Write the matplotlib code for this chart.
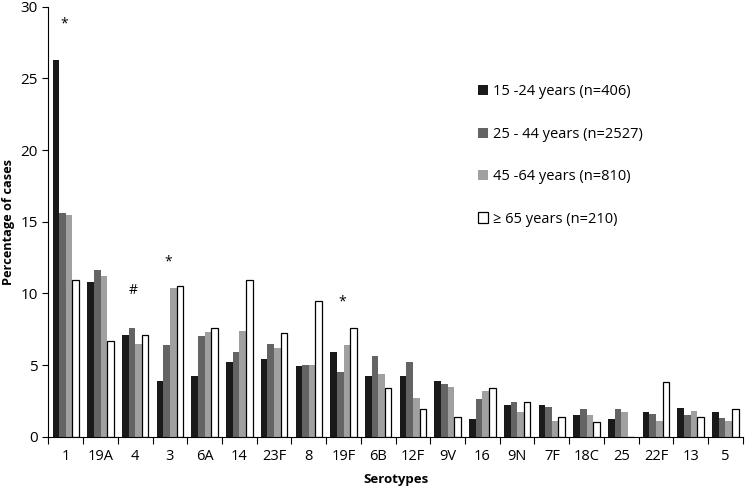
import numpy as np
import matplotlib.pyplot as plt

plt.rcParams['font.family'] = ['Open Sans', 'DejaVu Sans']

# serotype categories and percentages per age group
serotypes = ["1", "19A", "4", "3", "6A", "14", "23F", "8", "19F", "6B",
             "12F", "9V", "16", "9N", "7F", "18C", "25", "22F", "13", "5"]
age_15_24 = [26.3, 10.8, 7.1, 3.9, 4.2, 5.2, 5.4, 4.9, 5.9, 4.2,
             4.2, 3.9, 1.2, 2.2, 2.2, 1.5, 1.2, 1.7, 2.0, 1.7]
age_25_44 = [15.6, 11.6, 7.6, 6.4, 7.0, 5.9, 6.5, 5.0, 4.5, 5.6,
             5.2, 3.7, 2.6, 2.4, 2.1, 1.9, 1.9, 1.6, 1.5, 1.3]
age_45_64 = [15.5, 11.2, 6.5, 10.4, 7.3, 7.4, 6.2, 5.0, 6.4, 4.4,
             2.7, 3.5, 3.2, 1.7, 1.1, 1.5, 1.7, 1.1, 1.8, 1.1]
age_65 = [10.9, 6.7, 7.1, 10.5, 7.6, 10.9, 7.2, 9.5, 7.6, 3.4,
          1.9, 1.4, 3.4, 2.4, 1.4, 1.0, 0.0, 3.8, 1.4, 1.9]
labels = ["15 -24 years (n=406)", "25 - 44 years (n=2527)",
          "45 -64 years (n=810)", "\u2265 65 years (n=210)"]

# significance markers: (category index, height, symbol)
markers = [(0, 28.8, "*"), (2, 10.2, "#"), (3, 12.2, "*"), (8, 9.4, "*")]

fig = plt.figure(figsize=(7.45, 4.87), dpi=100)
ax = fig.add_axes([0.065, 0.1033, 0.932, 0.8829])

x = np.arange(len(serotypes))
w = 0.19
series = [age_15_24, age_25_44, age_45_64, age_65]
colors = ["#1a1a1a", "#646464", "#a0a0a0", "white"]
for i, (vals, c, lab) in enumerate(zip(series, colors, labels)):
    ax.bar(x + (i - 1.5) * w, vals, w, color=c, label=lab,
           edgecolor="black" if c == "white" else c, linewidth=0.9 if c == "white" else 0)

for idx, h, s in markers:
    ax.text(idx - 0.05, h, s, ha="center", va="center", fontsize=10)

ax.set_xlim(-0.5, len(serotypes) - 0.5)
ax.set_ylim(0, 30)
ax.set_yticks([0, 5, 10, 15, 20, 25, 30])
ax.set_xticks(np.arange(-0.5, len(serotypes), 1.0))
ax.set_xticklabels([])
ax.set_xticks(x, minor=True)
ax.set_xticklabels(serotypes, minor=True)
ax.tick_params(axis="x", which="major", length=5, direction="out")
ax.tick_params(axis="x", which="minor", length=0, pad=9, labelsize=10.5)
ax.tick_params(axis="y", length=4, direction="out", labelsize=11)
ax.spines["top"].set_visible(False)
ax.spines["right"].set_visible(False)

ax.set_xlabel("Serotypes", fontweight="bold", fontsize=9.5, labelpad=6)
ax.set_ylabel("Percentage of cases", fontweight="bold", fontsize=9.2)

ax.legend(loc="upper left", bbox_to_anchor=(0.6, 0.85), frameon=False,
          fontsize=10.5, labelspacing=1.88, handlelength=0.7, handleheight=0.7,
          handletextpad=0.3)

plt.savefig("out.png", dpi=100)
